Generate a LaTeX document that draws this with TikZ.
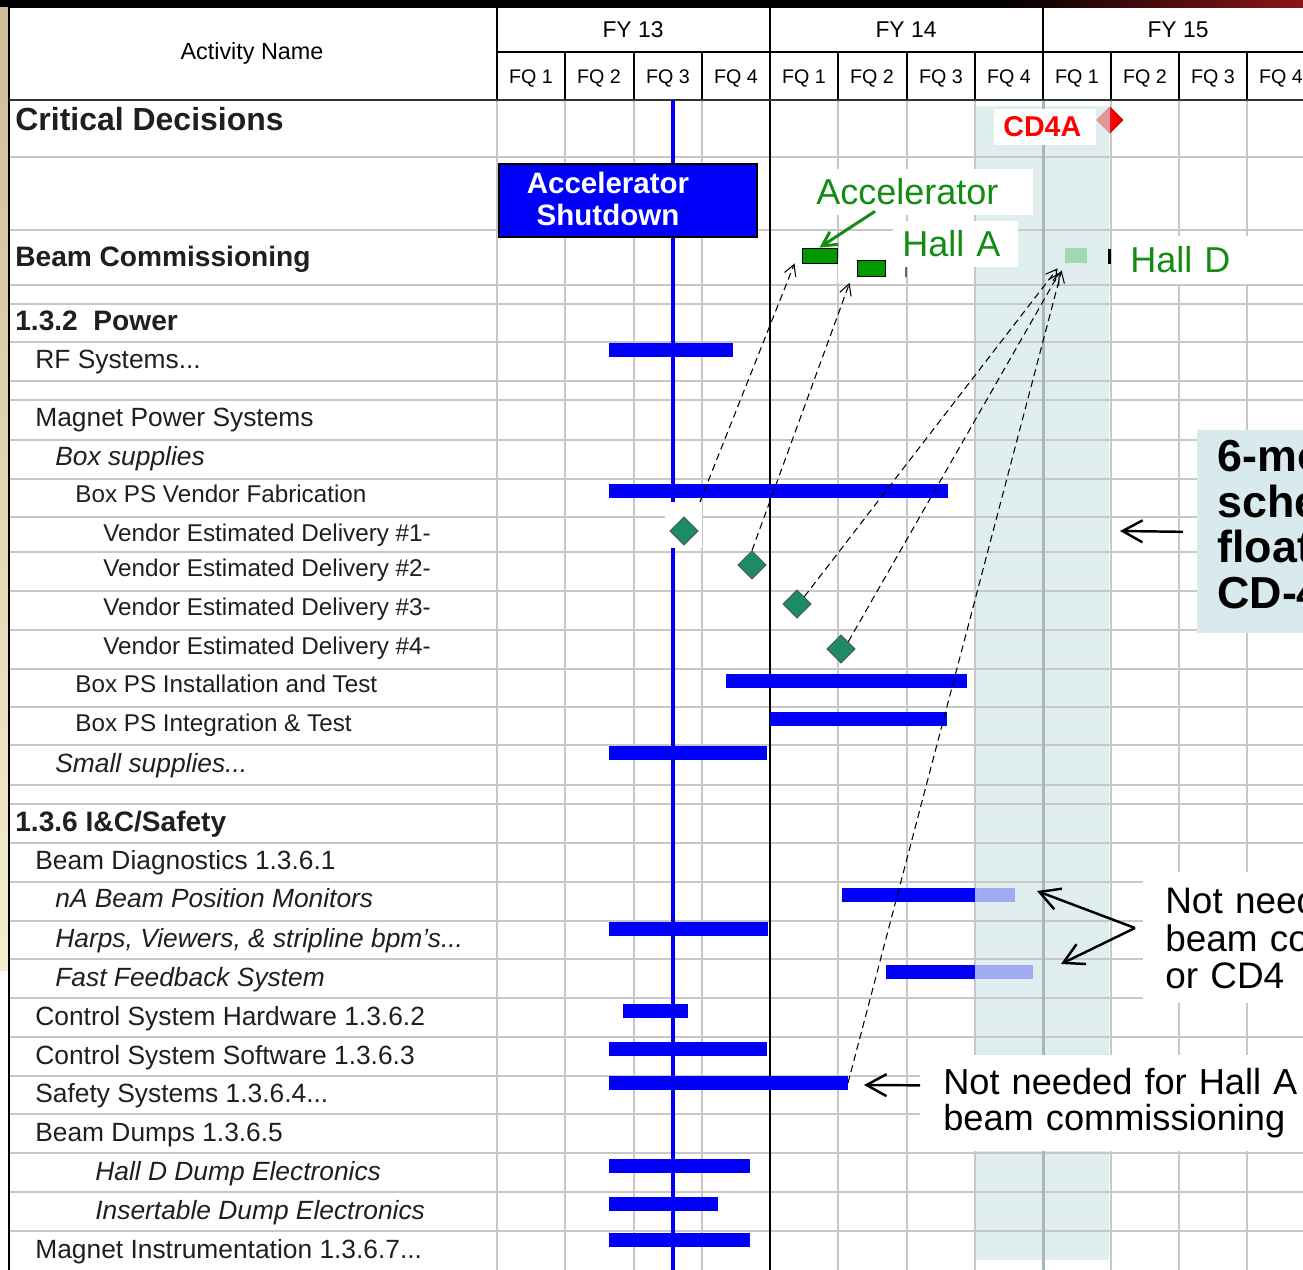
\documentclass[tikz,border=0pt]{standalone}
\usepackage{fontspec}
\setmainfont{Liberation Sans}
\usepackage{xcolor}
\usepackage{tikz}
\usetikzlibrary{calc,shapes.geometric,arrows.meta}

\definecolor{barblue}{RGB}{0,0,250}
\definecolor{barlight}{RGB}{160,170,240}
\definecolor{gridgray}{RGB}{200,200,200}
\definecolor{bandblue}{RGB}{224,238,240}
\definecolor{bandline}{RGB}{168,184,184}
\definecolor{floatblue}{RGB}{216,234,237}
\definecolor{msgreen}{RGB}{31,138,99}
\definecolor{lblgreen}{RGB}{20,140,20}
\definecolor{hallgreen}{RGB}{0,153,0}
\definecolor{halldlight}{RGB}{160,216,176}
\definecolor{cdpink}{RGB}{226,150,150}
\definecolor{tanA}{RGB}{205,190,150}
\definecolor{tanB}{RGB}{246,236,208}
\definecolor{topred}{RGB}{140,20,24}

\begin{document}
\begin{tikzpicture}[x=0.02cm, y=0.02cm,
    gridln/.style={gridgray, line width=1.1pt},
    rowtxt/.style={anchor=base west, text=black!88, font=\fontsize{15}{15}\selectfont},
    rowit/.style={rowtxt, font=\fontsize{15}{15}\selectfont\itshape},
    subtxt/.style={rowtxt, font=\fontsize{13.8}{13.8}\selectfont},
    grptxt/.style={anchor=base west, text=black!88, font=\fontsize{16}{16}\selectfont\bfseries},
    fytxt/.style={anchor=base, font=\fontsize{13}{13}\selectfont},
    fqtxt/.style={anchor=base, font=\fontsize{11.2}{11.2}\selectfont},
    bluebar/.style={fill=barblue},
    lightbar/.style={fill=barlight},
    msdia/.style={diamond, fill=msgreen, draw=black!70, line width=0.4pt, minimum size=0.57cm},
    lblbox/.style={fill=white, align=left, anchor=west, text=lblgreen, font=\fontsize{20.5}{20.5}\selectfont},
    notebox/.style={align=left, anchor=north west, font=\fontsize{21}{21.5}\selectfont},
    dasharr/.style={line width=0.6pt, dash pattern=on 4pt off 2.5pt, -{Straight Barb[length=0.22cm,width=0.24cm]}},
    notearr/.style={line width=1.4pt, -{Straight Barb[length=0.4cm,width=0.44cm]}}
  ]
  \tikzstyle{every node}+=[inner sep=0pt]
  \useasboundingbox (0,0) rectangle (1303,-1270);
  \clip (0,0) rectangle (1303,-1270);
  \fill[white] (0,0) rectangle (1303,-1270);

  % frame of the slide
  \fill[black] (0,0) rectangle (1303,-8);
  \shade[left color=black, right color=topred] (1000,0) rectangle (1303,-8);
  \shade[top color=tanA, bottom color=tanB] (0,-8) rectangle (8,-970);

  % CD-4 float band
  \fill[bandblue] (975,-106) rectangle (1109,-1260);

  % row lines
  \draw[gridln] (9,-157) -- (1303,-157);
  \draw[gridln] (9,-230) -- (1303,-230);
  \draw[gridln] (9,-285) -- (1303,-285);
  \draw[gridln] (9,-304) -- (1303,-304);
  \draw[gridln] (9,-342) -- (1303,-342);
  \draw[gridln] (9,-381) -- (1303,-381);
  \draw[gridln] (9,-400) -- (1303,-400);
  \draw[gridln] (9,-440) -- (1303,-440);
  \draw[gridln] (9,-479) -- (1303,-479);
  \draw[gridln] (9,-517) -- (1303,-517);
  \draw[gridln] (9,-552) -- (1303,-552);
  \draw[gridln] (9,-591) -- (1303,-591);
  \draw[gridln] (9,-630) -- (1303,-630);
  \draw[gridln] (9,-669) -- (1303,-669);
  \draw[gridln] (9,-707) -- (1303,-707);
  \draw[gridln] (9,-745) -- (1303,-745);
  \draw[gridln] (9,-785) -- (1303,-785);
  \draw[gridln] (9,-804) -- (1303,-804);
  \draw[gridln] (9,-843) -- (1303,-843);
  \draw[gridln] (9,-882) -- (1303,-882);
  \draw[gridln] (9,-921) -- (1303,-921);
  \draw[gridln] (9,-959) -- (1303,-959);
  \draw[gridln] (9,-998) -- (1303,-998);
  \draw[gridln] (9,-1037) -- (1303,-1037);
  \draw[gridln] (9,-1076) -- (1303,-1076);
  \draw[gridln] (9,-1114) -- (1303,-1114);
  \draw[gridln] (9,-1153) -- (1303,-1153);
  \draw[gridln] (9,-1192) -- (1303,-1192);
  \draw[gridln] (9,-1231) -- (1303,-1231);

  % quarter lines
  \draw[gridln] (497,-100) -- (497,-1270);
  \draw[gridln] (565,-100) -- (565,-1270);
  \draw[gridln] (634,-100) -- (634,-1270);
  \draw[gridln] (702,-100) -- (702,-1270);
  \draw[gridln] (838,-100) -- (838,-1270);
  \draw[gridln] (907,-100) -- (907,-1270);
  \draw[gridln] (975,-100) -- (975,-1270);
  \draw[gridln] (1111,-100) -- (1111,-1270);
  \draw[gridln] (1179,-100) -- (1179,-1270);
  \draw[gridln] (1247,-100) -- (1247,-1270);
  \draw[bandline, line width=1.7pt] (1043,-100) -- (1043,-1270);
  \draw[black, line width=1.7pt] (770,-100) -- (770,-1270);

  % header
  \draw[line width=1.6pt] (9,-8) -- (9,-1270);
  \draw[line width=1.2pt] (497,-8) -- (497,-100);
  \draw[line width=1.2pt] (497,-52) -- (1303,-52);
  \draw[line width=1.6pt] (770,-8) -- (770,-100);
  \draw[line width=1.6pt] (1043,-8) -- (1043,-100);
  \draw[line width=1.2pt] (565,-52) -- (565,-100);
  \draw[line width=1.2pt] (634,-52) -- (634,-100);
  \draw[line width=1.2pt] (702,-52) -- (702,-100);
  \draw[line width=1.2pt] (838,-52) -- (838,-100);
  \draw[line width=1.2pt] (907,-52) -- (907,-100);
  \draw[line width=1.2pt] (975,-52) -- (975,-100);
  \draw[line width=1.2pt] (1111,-52) -- (1111,-100);
  \draw[line width=1.2pt] (1179,-52) -- (1179,-100);
  \draw[line width=1.2pt] (1247,-52) -- (1247,-100);
  \draw[line width=1.6pt, black!80] (9,-100) -- (1303,-100);

  \node[anchor=base, font=\fontsize{13.3}{13.3}\selectfont] (actName) at (252,-60) {Activity Name};
  \node[fytxt] (fy13) at (633,-38) {FY 13};
  \node[fytxt] (fy14) at (906,-38) {FY 14};
  \node[fytxt] (fy15) at (1178,-38) {FY 15};
  \node[fqtxt] (q1) at (531,-84) {FQ 1};
  \node[fqtxt] (q2) at (599,-84) {FQ 2};
  \node[fqtxt] (q3) at (668,-84) {FQ 3};
  \node[fqtxt] (q4) at (736,-84) {FQ 4};
  \node[fqtxt] (q5) at (804,-84) {FQ 1};
  \node[fqtxt] (q6) at (872,-84) {FQ 2};
  \node[fqtxt] (q7) at (941,-84) {FQ 3};
  \node[fqtxt] (q8) at (1009,-84) {FQ 4};
  \node[fqtxt] (q9) at (1077,-84) {FQ 1};
  \node[fqtxt] (q10) at (1145,-84) {FQ 2};
  \node[fqtxt] (q11) at (1213,-84) {FQ 3};
  \node[fqtxt] (q12) at (1281,-84) {FQ 4};

  % activity names
  \node[anchor=base west, text=black!88, font=\fontsize{18.2}{18.2}\selectfont\bfseries] (cdRow) at (15,-131) {Critical Decisions};
  \node[grptxt] (bcRow) at (15,-267) {Beam Commissioning};
  \node[grptxt] (pwrRow) at (15,-331) {1.3.2\ \ Power};
  \node[rowtxt] (rfRow) at (35,-369) {RF Systems...};
  \node[rowtxt] (mpsRow) at (35,-427) {Magnet Power Systems};
  \node[rowit] (boxRow) at (55,-466) {Box supplies};
  \node[subtxt] (vendRow) at (75,-503) {Box PS Vendor Fabrication};
  \node[subtxt] (ved1Row) at (103,-542) {Vendor Estimated Delivery \#1-};
  \node[subtxt] (ved2Row) at (103,-577) {Vendor Estimated Delivery \#2-};
  \node[subtxt] (ved3Row) at (103,-616) {Vendor Estimated Delivery \#3-};
  \node[subtxt] (ved4Row) at (103,-655) {Vendor Estimated Delivery \#4-};
  \node[subtxt] (instRow) at (75,-693) {Box PS Installation and Test};
  \node[subtxt] (intRow) at (75,-732) {Box PS Integration \& Test};
  \node[rowit] (smallRow) at (55,-773) {Small supplies...};
  \node[grptxt] (icRow) at (15,-831) {1.3.6 I\&C/Safety};
  \node[rowtxt] (bdRow) at (35,-869) {Beam Diagnostics 1.3.6.1};
  \node[rowit] (bpmRow) at (55,-908) {nA Beam Position Monitors};
  \node[rowit] (harpRow) at (55,-947) {Harps, Viewers, \& stripline bpm's...};
  \node[rowit] (ffbRow) at (55,-986) {Fast Feedback System};
  \node[rowtxt] (cshRow) at (35,-1025) {Control System Hardware 1.3.6.2};
  \node[rowtxt] (cssRow) at (35,-1064) {Control System Software 1.3.6.3};
  \node[rowtxt] (safRow) at (35,-1102) {Safety Systems 1.3.6.4...};
  \node[rowtxt] (dumpRow) at (35,-1141) {Beam Dumps 1.3.6.5};
  \node[rowit] (hdRow) at (95,-1180) {Hall D Dump Electronics};
  \node[rowit] (insRow) at (95,-1219) {Insertable Dump Electronics};
  \node[rowtxt] (miRow) at (35,-1258) {Magnet Instrumentation 1.3.6.7...};

  % shutdown line
  \draw[barblue, line width=2.8pt] (673,-100) -- (673,-1270);

  % schedule bars
  \fill[bluebar] (609,-343) rectangle (733,-357);
  \fill[bluebar] (609,-484) rectangle (948,-498);
  \fill[bluebar] (726,-674) rectangle (967,-688);
  \fill[bluebar] (770,-712) rectangle (947,-726);
  \fill[bluebar] (609,-746) rectangle (767,-760);
  \fill[bluebar] (842,-888) rectangle (975,-902);
  \fill[lightbar] (975,-888) rectangle (1015,-902);
  \fill[bluebar] (609,-922) rectangle (768,-936);
  \fill[bluebar] (886,-965) rectangle (975,-979);
  \fill[lightbar] (975,-965) rectangle (1033,-979);
  \fill[bluebar] (623,-1004) rectangle (688,-1018);
  \fill[bluebar] (609,-1042) rectangle (767,-1056);
  \fill[bluebar] (609,-1076) rectangle (848,-1090);
  \fill[bluebar] (609,-1159) rectangle (750,-1173);
  \fill[bluebar] (609,-1197) rectangle (718,-1211);
  \fill[bluebar] (609,-1233) rectangle (750,-1247);
  \coordinate (safetyEnd) at (848,-1083);

  % beam commissioning bars
  \fill[white] (838,-258) rectangle (906,-283);
  \node[fill=hallgreen, draw=black, line width=0.5pt, minimum width=0.7cm, minimum height=0.3cm] (hA1) at (819.5,-255.5) {};
  \node[fill=hallgreen, draw=black, line width=0.5pt, minimum width=0.56cm, minimum height=0.32cm] (hA2) at (871,-268.5) {};
  \draw[black!60, line width=1pt] (906,-263) -- (906,-277);
  \node[fill=halldlight, minimum width=0.44cm, minimum height=0.3cm] (hD) at (1076,-255.5) {};
  \fill[black] (1108,-249) rectangle (1111,-264);

  % vendor deliveries
  \node[msdia] (d1) at (684,-531) {};
  \node[msdia] (d2) at (752,-565) {};
  \node[msdia] (d3) at (797,-604) {};
  \node[msdia] (d4) at (841,-649) {};

  \draw[dasharr] (d1.north east) -- ($(hA1.south west)+(-7,0)$);
  \draw[dasharr] (d2.north) -- ($(hA2.south west)+(-7,-6)$);
  \draw[dasharr] (d3.north east) -- ($(hD.south west)+(-7,-5)$);
  \draw[dasharr] (d4.north east) -- ($(hD.south west)+(-5,-9)$);
  \draw[dasharr] (safetyEnd) -- ($(hD.south west)+(-3,-7)$);

  \fill[white] (665,-502) rectangle (702,-548);
  \node[msdia] at (d1) {};

  % accelerator shutdown
  \node[draw=black, line width=1pt, fill=barblue, minimum width=5.16cm, minimum height=1.46cm, anchor=north west] (shutdown) at (498,-163) {};
  \node[align=center, text=white, font=\fontsize{16.8}{18}\selectfont\bfseries] (shutdownTxt) at (608,-199) {Accelerator\\Shutdown};

  % labels
  \node[lblbox, text width=4.18cm, inner xsep=0.16cm, minimum height=0.92cm] (accLbl) at (808,-192) {Accelerator};
  \draw[lblgreen, line width=1.7pt, -{Straight Barb[length=0.28cm,width=0.3cm]}] ($(accLbl.south west)+(67,4)$) -- (hA1.north);
  \node[lblbox, text width=2.14cm, inner xsep=0.18cm, minimum height=0.92cm] (hallALbl) at (893,-244) {Hall A};
  \node[lblbox, text width=2.3cm, inner xsep=0.34cm, minimum height=0.96cm] (hallDLbl) at (1113,-260) {Hall D};

  \node[fill=white, align=left, anchor=west, text width=1.68cm, inner xsep=0.18cm, minimum height=0.72cm, text=red, font=\fontsize{16.3}{16.3}\selectfont\bfseries] (cd4Lbl) at (994,-127) {CD4A};
  \node[diamond, fill=red, draw=red!70!black, line width=0.4pt, minimum size=0.52cm] (cd4) at (1110,-120) {};
  \fill[cdpink] (cd4.north) -- (cd4.west) -- (cd4.south) -- cycle;

  % notes
  \node[fill=floatblue, minimum width=3cm, minimum height=4.06cm, anchor=north west] (floatbox) at (1197,-430) {};
  \node[anchor=north west, align=left, font=\fontsize{25.5}{26}\selectfont\bfseries] (floatTxt) at (1217,-440) {6-mo\\sche\\float\\CD-4};
  \coordinate (floatTip) at (1120,-531);
  \draw[notearr] ($(floatbox.west)+(-14,0)$) -- (floatTip);

  \node[notebox, fill=white, text width=5cm, inner xsep=0.44cm, minimum height=2.62cm] (cd4note) at (1143,-872) {Not needed\\beam com\\or CD4};
  \coordinate (fork) at (1135,-928);
  \coordinate (bpmTip) at (1037,-891);
  \coordinate (ffbTip) at (1061,-964);
  \draw[notearr] (fork) -- (bpmTip);
  \draw[notearr] (fork) -- (ffbTip);

  \node[notebox, fill=white, text width=8cm, inner xsep=0.46cm, minimum height=1.92cm, font=\fontsize{20.6}{20.8}\selectfont] (hallAnote) at (920,-1055) {Not needed for Hall A\\beam commissioning};
  \coordinate (safetyTip) at (864,-1085);
  \draw[notearr] ($(hallAnote.west)+(0,18)$) -- (safetyTip);
\end{tikzpicture}
\end{document}
